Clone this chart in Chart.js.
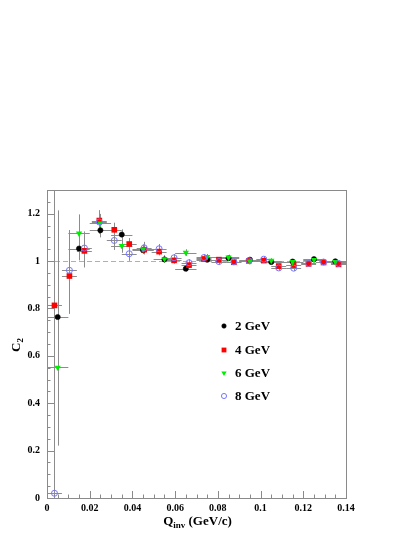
<!DOCTYPE html>
<html>
<head>
<meta charset="utf-8">
<script src="https://cdn.jsdelivr.net/npm/chart.js@4.4.1/dist/chart.umd.min.js"></script>
<style>
  html, body { margin: 0; padding: 0; background: #fff; }
</style>
</head>
<body>
<canvas id="c2Chart" width="415" height="537"></canvas>
<script>
// Q_inv bin centres (GeV/c)
const qWide = [0.005, 0.015, 0.025, 0.035, 0.045, 0.055, 0.065, 0.075, 0.085, 0.095, 0.105, 0.115, 0.125, 0.135];
const qNarrow = [0.0035, 0.0105, 0.0175, 0.0245, 0.0315, 0.0385, 0.0455, 0.0525, 0.0595, 0.0665,
                 0.0735, 0.0805, 0.0875, 0.0945, 0.1015, 0.1085, 0.1155, 0.1225, 0.1295, 0.1365];
const halfWide = 0.005;
const halfNarrow = 0.0035;

// C2 values and their errors
const c2_2GeV = [0.764, 1.053, 1.130, 1.112, 1.046, 1.007, 0.968, 1.006, 1.012, 1.006, 0.996, 0.998, 1.008, 0.999];
const err_2GeV = [0.45, 0.05, 0.03, 0.022, 0.016, 0.013, 0.012, 0.01, 0.01, 0.01, 0.009, 0.009, 0.009, 0.009];

const c2_4GeV = [0.813, 0.937, 1.043, 1.171, 1.132, 1.072, 1.048, 1.040, 1.003, 0.983,
                 1.009, 1.006, 0.995, 1.001, 1.002, 0.979, 0.983, 0.988, 0.994, 0.986];
const err_4GeV = [0.40, 0.16, 0.07, 0.04, 0.03, 0.025, 0.02, 0.016, 0.014, 0.013,
                  0.012, 0.011, 0.011, 0.01, 0.01, 0.01, 0.01, 0.01, 0.01, 0.01];

const c2_6GeV = [0.551, 1.117, 1.159, 1.065, 1.050, 1.009, 1.036, 1.018, 1.016, 0.999, 1.002, 0.997, 1.005, 0.997];
const err_6GeV = [0.33, 0.08, 0.04, 0.03, 0.02, 0.016, 0.014, 0.012, 0.011, 0.01, 0.01, 0.01, 0.01, 0.01];

const c2_8GeV = [0.020, 0.961, 1.055, 1.165, 1.087, 1.031, 1.056, 1.052, 1.014, 0.993,
                 1.015, 0.998, 0.997, 1.002, 1.008, 0.971, 0.970, 0.990, 0.996, 0.990];
const err_8GeV = [1.40, 0.17, 0.07, 0.05, 0.04, 0.03, 0.025, 0.02, 0.016, 0.015,
                  0.014, 0.013, 0.013, 0.012, 0.012, 0.012, 0.012, 0.012, 0.012, 0.012];

// axis ticks
const xMajor = [0, 0.02, 0.04, 0.06, 0.08, 0.1, 0.12, 0.14];
const yMajor = [0, 0.2, 0.4, 0.6, 0.8, 1, 1.2];
const xMinorStep = 0.005;
const yMinorStep = 0.05;

const serif = '"Liberation Serif", "Times New Roman", serif';
const isMajor = (v, list) => list.some(m => Math.abs(m - v) < 1e-9);

function makeSet(label, xs, ys, yErr, xHalf, style) {
    return Object.assign({
        label,
        data: xs.map((x, i) => ({ x, y: ys[i] })),
        yErr,
        xHalf,
        showLine: false
    }, style);
}

const datasets = [
    makeSet('2 GeV', qWide, c2_2GeV, err_2GeV, halfWide,
        { pointStyle: 'circle', pointRadius: 2.6, backgroundColor: '#000', borderColor: '#000', borderWidth: 0.6, order: 4 }),
    makeSet('4 GeV', qNarrow, c2_4GeV, err_4GeV, halfNarrow,
        { pointStyle: 'rect', pointRadius: 4, backgroundColor: '#ff0000', borderColor: '#ff0000', borderWidth: 0, order: 3 }),
    makeSet('6 GeV', qWide, c2_6GeV, err_6GeV, halfWide,
        { pointStyle: 'triangle', rotation: 180, pointRadius: 3.6, backgroundColor: '#00ee00', borderColor: '#00ee00', borderWidth: 0, order: 2 }),
    makeSet('8 GeV', qNarrow, c2_8GeV, err_8GeV, halfNarrow,
        { pointStyle: 'circle', pointRadius: 3, backgroundColor: 'rgba(0,0,0,0)', borderColor: '#7575ff', borderWidth: 1, order: 1 })
];

// frame, inward ticks, dashed line at 1 and error bars, under the markers
const framePlugin = {
    id: 'frame',
    beforeDatasetsDraw(chart) {
        const { ctx, chartArea: a, scales: { x, y } } = chart;
        ctx.save();
        // dashed reference line
        ctx.strokeStyle = '#b0b0b0';
        ctx.lineWidth = 1;
        ctx.setLineDash([5, 3]);
        const y1 = Math.round(y.getPixelForValue(1)) + 0.5;
        ctx.beginPath();
        ctx.moveTo(a.left, y1);
        ctx.lineTo(a.right, y1);
        ctx.stroke();
        ctx.setLineDash([]);

        // frame
        ctx.strokeStyle = '#8a8a8a';
        ctx.strokeRect(Math.round(a.left) + 0.5, Math.round(a.top) + 0.5,
            Math.round(a.right - a.left), Math.round(a.bottom - a.top));

        // ticks
        ctx.beginPath();
        x.ticks.forEach(t => {
            const px = Math.round(x.getPixelForValue(t.value)) + 0.5;
            const len = isMajor(t.value, xMajor) ? 7 : 3.5;
            ctx.moveTo(px, a.bottom);
            ctx.lineTo(px, a.bottom - len);
        });
        y.ticks.forEach(t => {
            const py = Math.round(y.getPixelForValue(t.value)) + 0.5;
            const len = isMajor(t.value, yMajor) ? 7 : 3.5;
            ctx.moveTo(a.left, py);
            ctx.lineTo(a.left + len, py);
        });
        ctx.stroke();

        // error bars
        ctx.beginPath();
        ctx.rect(a.left, a.top, a.right - a.left, a.bottom - a.top);
        ctx.clip();
        ctx.strokeStyle = '#8c8c8c';
        ctx.lineWidth = 1;
        chart.data.datasets.forEach(ds => {
            ds.data.forEach((p, i) => {
                const px = Math.round(x.getPixelForValue(p.x)) + 0.5;
                const py = Math.round(y.getPixelForValue(p.y)) + 0.5;
                ctx.beginPath();
                ctx.moveTo(px, y.getPixelForValue(p.y - ds.yErr[i]));
                ctx.lineTo(px, y.getPixelForValue(p.y + ds.yErr[i]));
                ctx.moveTo(x.getPixelForValue(p.x - ds.xHalf), py);
                ctx.lineTo(x.getPixelForValue(p.x + ds.xHalf), py);
                ctx.stroke();
            });
        });
        ctx.restore();
    },
    afterDraw(chart) {
        const { ctx, chartArea: a } = chart;
        ctx.save();
        ctx.fillStyle = '#000';
        ctx.textBaseline = 'alphabetic';

        // x title: Q_inv (GeV/c)
        const big = 'bold 13px ' + serif;
        const small = 'bold 9px ' + serif;
        ctx.font = big;
        const wQ = ctx.measureText('Q').width;
        const wRest = ctx.measureText(' (GeV/c)').width;
        ctx.font = small;
        const wInv = ctx.measureText('inv').width;
        const cx = (a.left + a.right) / 2 + 1;
        let tx = cx - (wQ + wInv + wRest) / 2;
        ctx.font = big;
        ctx.fillText('Q', tx, 525);
        ctx.font = small;
        ctx.fillText('inv', tx + wQ, 528);
        ctx.font = big;
        ctx.fillText(' (GeV/c)', tx + wQ + wInv, 525);

        // y title: C_2
        ctx.translate(20, 352);
        ctx.rotate(-Math.PI / 2);
        ctx.font = big;
        ctx.fillText('C', 0, 0);
        const wC = ctx.measureText('C').width;
        ctx.font = small;
        ctx.fillText('2', wC, 3);
        ctx.restore();

        // legend
        ctx.save();
        const rows = [326, 350, 373, 396];
        ctx.font = 'bold 13px ' + serif;
        ctx.textBaseline = 'middle';
        chart.data.datasets.forEach((ds, i) => {
            const ry = rows[i];
            ctx.fillStyle = ds.backgroundColor;
            ctx.strokeStyle = ds.borderColor;
            ctx.lineWidth = ds.borderWidth;
            Chart.helpers.drawPoint(ctx, {
                pointStyle: ds.pointStyle,
                rotation: ds.rotation || 0,
                radius: ds.pointRadius * 0.85,
                borderWidth: ds.borderWidth
            }, 224, ry);
            ctx.fillStyle = '#000';
            ctx.fillText(ds.label, 235, ry + 1);
        });
        ctx.restore();
    }
};

new Chart(document.getElementById('c2Chart'), {
    type: 'scatter',
    data: { datasets },
    plugins: [framePlugin],
    options: {
        responsive: false,
        animation: false,
        layout: { padding: { top: 190, right: 69, left: 0, bottom: 0 } },
        plugins: { legend: { display: false }, tooltip: { enabled: false } },
        scales: {
            x: {
                type: 'linear',
                min: 0,
                max: 0.14,
                afterBuildTicks: s => {
                    const t = [];
                    for (let i = 0; i <= 28; i++) t.push({ value: +(i * xMinorStep).toFixed(4) });
                    s.ticks = t;
                },
                afterFit: s => { s.height = 39; },
                grid: { display: false, drawTicks: false, tickLength: 0 },
                border: { display: false },
                ticks: {
                    autoSkip: false,
                    maxRotation: 0,
                    padding: 4,
                    color: '#000',
                    font: { family: serif, size: 10, weight: 'bold' },
                    callback: v => isMajor(v, xMajor) ? String(+v.toFixed(3)) : ''
                }
            },
            y: {
                type: 'linear',
                min: 0,
                max: 1.3,
                afterBuildTicks: s => {
                    const t = [];
                    for (let i = 0; i <= 26; i++) t.push({ value: +(i * yMinorStep).toFixed(3) });
                    s.ticks = t;
                },
                afterFit: s => { s.width = 47; },
                grid: { display: false, drawTicks: false, tickLength: 0 },
                border: { display: false },
                ticks: {
                    autoSkip: false,
                    padding: 7,
                    color: '#000',
                    font: { family: serif, size: 10, weight: 'bold' },
                    callback: v => isMajor(v, yMajor) ? String(+v.toFixed(2)) : ''
                }
            }
        }
    }
});
</script>
</body>
</html>
